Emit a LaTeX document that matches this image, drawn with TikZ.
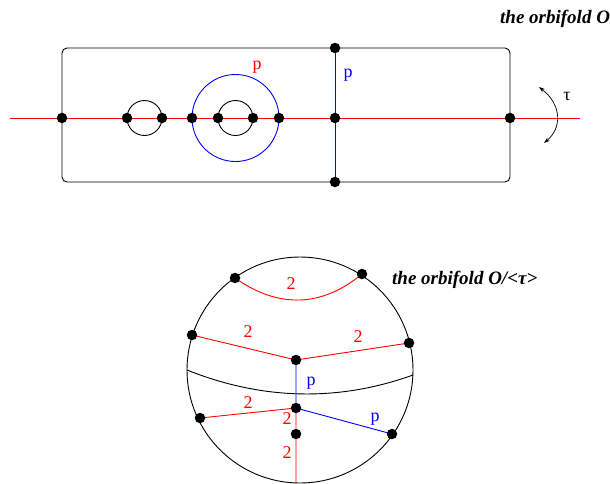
\documentclass[tikz,border=0pt]{standalone}
\usepackage{fontspec}
\setmainfont{Liberation Serif}
\usetikzlibrary{arrows.meta, positioning}
\definecolor{orbred}{RGB}{255,0,0}
\definecolor{orbblue}{RGB}{0,0,255}
\tikzset{
  pt/.style={circle, fill=black, inner sep=0pt, minimum size=10.5pt},
  lab/.style={font=\fontsize{18}{20}\selectfont, inner sep=0pt},
  labR/.style={lab, text=orbred},
  labB/.style={lab, text=orbblue},
  ttl/.style={font=\fontsize{19}{22}\selectfont\bfseries\itshape,
    anchor=base west, inner sep=0pt},
  edgK/.style={line width=0.9pt, draw=black},
  edgR/.style={edgK, draw=orbred},
  edgB/.style={edgK, draw=orbblue},
}

\begin{document}
\begin{tikzpicture}[x=1pt, y=-1pt]
  \useasboundingbox (0,0) rectangle (610,483);

  % Upper picture: the orbifold O
  \coordinate (Lend) at (10,118);
  \coordinate (Rend) at (580,118);
  \foreach \nm/\xx in {h0/62, h1/127, h2/162, h3/192, h4/218,
                       h5/253, h6/279, h7/335, h8/510}
    \coordinate (\nm) at (\xx,118);
  \coordinate (vt) at (335,48);
  \coordinate (vb) at (335,182);
  \coordinate (cA) at (144.5,118);
  \coordinate (cB) at (235.5,118);

  \draw[edgK, rounded corners=5pt] (62,48) rectangle (510,182);
  \draw[edgK] (cA) circle[radius=17.5pt];
  \draw[edgK] (cB) circle[radius=17.5pt];
  \draw[edgB] (cB) circle[radius=43.5pt];
  \draw[edgB] (vt) -- (vb);
  \draw[edgR] (Lend) -- (Rend);

  \foreach \nm in {h0,h1,h2,h3,h4,h5,h6,h7,h8,vt,vb}
    \node[pt] at (\nm) {};

  \node[labR] (pRed)  at (257,67) {p};
  \node[labB] (pBlue) at (348,75) {p};

  % the involution tau
  \coordinate (tauA) at (539,87);
  \coordinate (tauB) at (544,143);
  \draw[<->, >={Stealth[length=6pt, width=4pt]}, line width=0.7pt]
    (tauA) .. controls (562,105) and (562,128) .. (tauB);
  \node[lab] (tau) at (567,96) {τ};

  \node[ttl] (ttlA) at (500,23) {the orbifold O};

  % Lower picture: the quotient O/<tau>
  \coordinate (ctr) at (300,370);
  \coordinate (a1) at (235,278);
  \coordinate (a2) at (362,274);
  \coordinate (b1) at (192,335);
  \coordinate (b2) at (409,343);
  \coordinate (m1) at (296,360);
  \coordinate (m2) at (296,408);
  \coordinate (m3) at (296,434);
  \coordinate (c1) at (200,418);
  \coordinate (c2) at (392,434);
  \coordinate (bot) at (296,483);
  \coordinate (k1) at (187,370);
  \coordinate (k2) at (413,375);

  \draw[edgK] (ctr) circle[radius=113pt];
  \draw[edgK] (k1) .. controls (262,400) and (338,402) .. (k2);
  \draw[edgR] (a1) .. controls (279,309) and (322,307) .. (a2);
  \draw[edgR] (b1) -- (m1) -- (b2);
  \draw[edgB] (m1) -- (m2) -- (c2);
  \draw[edgR] (c1) -- (m2) -- (bot);

  \foreach \nm in {a1,a2,b1,b2,m1,m2,m3,c1,c2}
    \node[pt] at (\nm) {};

  \node[labR] (n1) at (291,284) {2};
  \node[labR] (n2) at (248,332) {2};
  \node[labR] (n3) at (358,337) {2};
  \node[labB] (n4) at (311,383) {p};
  \node[labR] (n5) at (248,403) {2};
  \node[labR] (n6) at (287,419) {2};
  \node[labB] (n7) at (375,419) {p};
  \node[labR] (n8) at (287,453) {2};

  \node[ttl] (ttlB) at (392,284) {the orbifold O/<τ>};
\end{tikzpicture}
\end{document}
